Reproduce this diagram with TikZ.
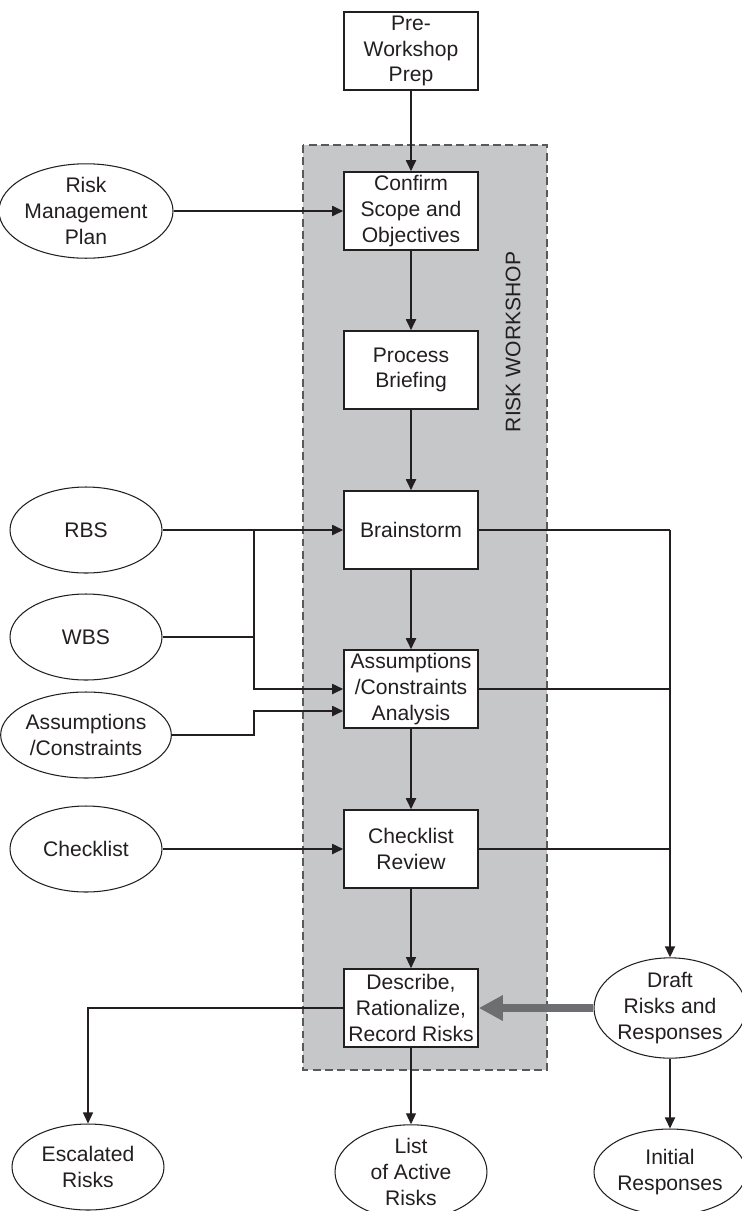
\documentclass[tikz,border=0pt]{standalone}
\usepackage{fontspec}
\setmainfont{Liberation Sans}
\usetikzlibrary{arrows.meta,shapes.geometric,calc}
\definecolor{ink}{HTML}{231F20}
\definecolor{panel}{HTML}{C6C7C9}
\definecolor{panelline}{HTML}{58595B}
\definecolor{fatarrow}{HTML}{6D6E71}

\begin{document}
\begin{tikzpicture}[x=0.02cm,y=-0.02cm,
  every node/.style={font=\fontsize{12}{14.6}\selectfont, text=ink, align=center},
  stepbox/.style={draw=ink, line width=0.9pt, fill=white, minimum width=2.68cm, minimum height=1.56cm, inner sep=1pt},
  source/.style={draw=ink, line width=0.6pt, fill=white, ellipse, minimum width=3.04cm, minimum height=1.72cm, inner sep=0pt},
  flow/.style={draw=ink, line width=1pt, -{Triangle[length=0.22cm,width=0.2cm]}},
  thinflow/.style={flow, line width=0.65pt},
  link/.style={draw=ink, line width=1pt},
  feed/.style={draw=fatarrow, line width=0.16cm, -{Triangle[length=0.48cm,width=0.48cm]}}]

\useasboundingbox (0,0) rectangle (741,1211);
\fill[white] (0,0) rectangle (741,1211);

% workshop panel
\draw[panelline, fill=panel, dash pattern=on 4.5pt off 2.5pt, line width=0.8pt] (303,145) rectangle (547,1070);
\node[rotate=90] (title) at (513,342) {RISK WORKSHOP};

% workshop steps
\node[stepbox] (prep) at (411,51) {Pre-\\Workshop\\Prep};
\node[stepbox] (scope) at (411,211) {Confirm\\Scope and\\Objectives};
\node[stepbox] (brief) at (411,370) {Process\\Briefing};
\node[stepbox] (brain) at (411,530) {Brainstorm};
\node[stepbox] (asm) at (411,689) {Assumptions\\/Constraints\\Analysis};
\node[stepbox] (chk) at (411,849) {Checklist\\Review};
\node[stepbox] (desc) at (411,1008) {Describe,\\Rationalize,\\Record Risks};

% inputs
\node[source] (rmp) at (86,211) {Risk\\Management\\Plan};
\node[source] (rbs) at (86,530) {RBS};
\node[source] (wbs) at (86,637) {WBS};
\node[source] (ac) at (86,735) {Assumptions\\/Constraints};
\node[source] (cl) at (86,849) {Checklist};

% outputs
\node[source] (draft) at (670,1008) {Draft\\Risks and\\Responses};
\node[source] (init) at (670,1172) {Initial\\Responses};
\node[source] (esc) at (88,1167) {Escalated\\Risks};
\node[source] (active) at (411,1172) {List\\of Active\\Risks};

% main sequence
\draw[flow] (prep) -- (scope);
\draw[flow] (scope) -- (brief);
\draw[flow] (brief) -- (brain);
\draw[flow] (brain) -- (asm);
\draw[flow] (asm) -- (chk);
\draw[thinflow] (chk) -- (desc);

% inputs into the workshop
\coordinate (jn) at (254,530);
\coordinate (acin) at ($(asm.west)+(0,22)$);
\draw[flow] (rmp) -- (scope);
\draw[flow] (rbs) -- (brain);
\draw[link] (wbs.east) -- (wbs.east -| jn);
\draw[flow] (jn) |- (asm.west);
\draw[flow] (ac.east) -- (jn |- ac.east) -- (jn |- acin) -- (acin);
\draw[flow] (cl) -- (chk);

% collected draft risks
\coordinate (rt) at (670,530);
\draw[link] (brain.east) -- (rt);
\draw[link] (asm.east) -- (asm.east -| rt);
\draw[link] (chk.east) -- (chk.east -| rt);
\draw[flow] (rt) -- (draft.north);
\draw[flow] (draft) -- (init);
\draw[feed] (draft.west) -- (desc.east);

% outputs of the workshop
\draw[thinflow] (desc.west) -| (esc.north);
\draw[thinflow] (desc) -- (active);
\end{tikzpicture}
\end{document}
